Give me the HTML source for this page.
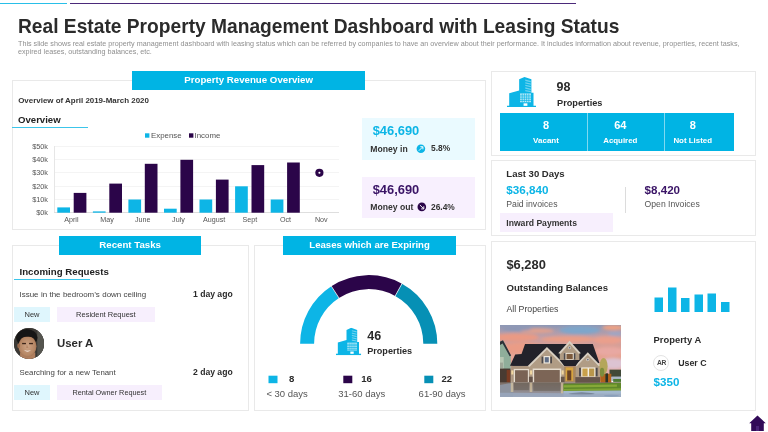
<!DOCTYPE html>
<html>
<head>
<meta charset="utf-8">
<title>Real Estate Property Management Dashboard with Leasing Status</title>
<style>
*{margin:0;padding:0;box-sizing:border-box;}
html,body{width:768px;height:432px;overflow:hidden;background:#fff;}
body{position:relative;font-family:"Liberation Sans",sans-serif;color:#222;will-change:transform;}
.a{position:absolute;}
.t{position:absolute;white-space:nowrap;line-height:1;}
.b{font-weight:bold;}
.panel{position:absolute;border:1px solid #e9e9e9;background:#fff;}
.hdr{position:absolute;background:#00b4e4;color:#fff;font-weight:bold;text-align:center;white-space:nowrap;}
.cy{color:#0db5e6;}
.pu{color:#3a1466;}
.tag{position:absolute;text-align:center;white-space:nowrap;color:#333;}
</style>
</head>
<body>
<svg width="0" height="0" style="position:absolute">
<defs>
<symbol id="bld" viewBox="95 70 303 330" preserveAspectRatio="none">
<path d="M118 245 L222 215 L222 95 L278 70 L350 95 L350 240 L372 240 L372 385 L118 385Z" fill="#0db5e6"/>
<rect x="95" y="381" width="303" height="19" fill="#0db5e6"/>
<g fill="#fff">
<rect x="232" y="249" width="113" height="13" opacity="0.9"/>
<rect x="232" y="270" width="113" height="12" opacity="0.8"/>
<rect x="232" y="290" width="113" height="12" opacity="0.8"/>
<rect x="232" y="310" width="113" height="12" opacity="0.8"/>
<rect x="232" y="330" width="113" height="13" opacity="0.75"/>
<rect x="268" y="355" width="40" height="27"/>
<path d="M286 98 L344 112 L344 126 L286 112Z M286 126 L344 140 L344 154 L286 140Z M286 154 L344 168 L344 182 L286 168Z M286 182 L344 196 L344 210 L286 196Z M286 210 L344 222 L344 234 L286 224Z" opacity="0.4"/>
</g>
<g stroke="#0db5e6" stroke-width="7"><path d="M254 249V343M277 249V343M300 249V343M323 249V343"/></g>
</symbol>
</defs>
</svg>
<!-- top lines -->
<div class="a" style="left:0;top:3px;width:66.5px;height:1.2px;background:#29bfe8;"></div>
<div class="a" style="left:69.6px;top:3px;width:506.3px;height:1.2px;background:#4b2a7a;"></div>

<!-- title -->
<div class="t b" id="title" style="left:17.6px;top:15.1px;font-size:21px;color:#2b2b2b;transform-origin:0 0;transform:scaleX(0.9137);">Real Estate Property Management Dashboard with Leasing Status</div>
<div class="t" id="sub1" style="left:18px;top:40.1px;font-size:7.2px;color:#8f8f8f;">This slide shows real estate property management dashboard with leasing status which can be referred by companies to have an overview about their performance. It includes information about revenue, properties, recent tasks,</div>
<div class="t" id="sub2" style="left:18px;top:48.2px;font-size:7.2px;color:#8f8f8f;">expired leases, outstanding balances, etc.</div>

<!-- PANEL 1 : revenue -->
<div class="panel" style="left:12px;top:80px;width:474px;height:150px;"></div>
<div class="hdr" style="left:132px;top:71.2px;width:233.2px;height:18.6px;font-size:9.7px;line-height:18.8px;">Property Revenue Overview</div>
<div class="t b" style="left:18.2px;top:96.6px;font-size:7.95px;color:#333;">Overview of April 2019-March 2020</div>
<div class="t b" style="left:18px;top:114.7px;font-size:9.6px;color:#222;">Overview</div>
<div class="a" style="left:12px;top:126.9px;width:75.6px;height:1.4px;background:#3cc5ea;"></div>

<!-- chart -->
<svg class="a" style="left:0;top:0;" width="768" height="432" viewBox="0 0 768 432" id="chart">
<g stroke="#f4f4f4" stroke-width="1" shape-rendering="crispEdges">
<line x1="54" y1="146.5" x2="339" y2="146.5"/>
<line x1="54" y1="159.5" x2="339" y2="159.5"/>
<line x1="54" y1="172.5" x2="339" y2="172.5"/>
<line x1="54" y1="186.5" x2="339" y2="186.5"/>
<line x1="54" y1="199.5" x2="339" y2="199.5"/>
</g>
<line x1="54.5" y1="146" x2="54.5" y2="213" stroke="#e6e6e6" stroke-width="1" shape-rendering="crispEdges"/>
<line x1="54" y1="212.9" x2="339" y2="212.9" stroke="#dedede" stroke-width="1" shape-rendering="crispEdges"/>
<g fill="#0db5e6">
<rect x="57.3" y="207.4" width="12.7" height="5.3"/>
<rect x="92.9" y="211.4" width="12.7" height="1.3"/>
<rect x="128.4" y="199.5" width="12.7" height="13.2"/>
<rect x="164.0" y="208.7" width="12.7" height="4.0"/>
<rect x="199.5" y="199.5" width="12.7" height="13.2"/>
<rect x="235.1" y="186.3" width="12.7" height="26.4"/>
<rect x="270.7" y="199.5" width="12.7" height="13.2"/>
</g>
<g fill="#2b0549">
<rect x="73.7" y="192.9" width="12.7" height="19.8"/>
<rect x="109.3" y="183.6" width="12.7" height="29.1"/>
<rect x="144.8" y="163.8" width="12.7" height="48.9"/>
<rect x="180.4" y="159.8" width="12.7" height="52.9"/>
<rect x="215.9" y="179.6" width="12.7" height="33.1"/>
<rect x="251.5" y="165.1" width="12.7" height="47.6"/>
<rect x="287.1" y="162.5" width="12.7" height="50.2"/>
</g>
<circle cx="319.4" cy="172.8" r="4.1" fill="#2b0549"/>
<circle cx="319.4" cy="172.8" r="1.05" fill="#fff"/>
<rect x="145" y="133.3" width="4.4" height="4.4" fill="#0db5e6"/>
<rect x="189" y="133.3" width="4.4" height="4.4" fill="#2b0549"/>
</svg>
<div class="t" style="left:151px;top:131.7px;font-size:7.9px;color:#555;">Expense</div>
<div class="t" style="left:194.5px;top:131.7px;font-size:7.9px;color:#555;">Income</div>
<div id="ylabels"></div>
<div class="t yl" style="left:20px;width:28px;text-align:right;top:142.9px;font-size:7.3px;color:#555;">$50k</div>
<div class="t yl" style="left:20px;width:28px;text-align:right;top:155.9px;font-size:7.3px;color:#555;">$40k</div>
<div class="t yl" style="left:20px;width:28px;text-align:right;top:168.9px;font-size:7.3px;color:#555;">$30k</div>
<div class="t yl" style="left:20px;width:28px;text-align:right;top:182.9px;font-size:7.3px;color:#555;">$20k</div>
<div class="t yl" style="left:20px;width:28px;text-align:right;top:195.9px;font-size:7.3px;color:#555;">$10k</div>
<div class="t yl" style="left:20px;width:28px;text-align:right;top:208.9px;font-size:7.3px;color:#555;">$0k</div>

<div class="t xl" style="left:53.5px;width:35.7px;text-align:center;top:217.3px;font-size:7.15px;color:#555;">April</div>
<div class="t xl" style="left:89.2px;width:35.7px;text-align:center;top:217.3px;font-size:7.15px;color:#555;">May</div>
<div class="t xl" style="left:124.9px;width:35.7px;text-align:center;top:217.3px;font-size:7.15px;color:#555;">June</div>
<div class="t xl" style="left:160.6px;width:35.7px;text-align:center;top:217.3px;font-size:7.15px;color:#555;">July</div>
<div class="t xl" style="left:196.3px;width:35.7px;text-align:center;top:217.3px;font-size:7.15px;color:#555;">August</div>
<div class="t xl" style="left:232.0px;width:35.7px;text-align:center;top:217.3px;font-size:7.15px;color:#555;">Sept</div>
<div class="t xl" style="left:267.7px;width:35.7px;text-align:center;top:217.3px;font-size:7.15px;color:#555;">Oct</div>
<div class="t xl" style="left:303.4px;width:35.7px;text-align:center;top:217.3px;font-size:7.15px;color:#555;">Nov</div>

<!-- money boxes -->
<div class="a" style="left:362.2px;top:117.7px;width:113.1px;height:41.9px;background:#eafaff;"></div>
<div class="t b cy" style="left:372.7px;top:125px;font-size:12.9px;">$46,690</div>
<div class="t b" style="left:370.3px;top:145.1px;font-size:8.65px;color:#333;">Money in</div>
<div class="t b" style="left:431px;top:144px;font-size:8.4px;color:#333;">5.8%</div>
<div class="a" style="left:362.2px;top:176.6px;width:113.1px;height:41.9px;background:#f8f0fe;"></div>
<div class="t b pu" style="left:372.7px;top:184px;font-size:12.9px;">$46,690</div>
<div class="t b" style="left:370.3px;top:202.7px;font-size:8.65px;color:#333;">Money out</div>
<div class="t b" style="left:431px;top:202.9px;font-size:8.4px;color:#333;">26.4%</div>
<svg class="a" style="left:414px;top:142px;" width="16" height="72" viewBox="414 142 16 72">
<circle cx="420.9" cy="148.7" r="4.3" fill="#0db5e6"/>
<path d="M418.9 150.7 L422.7 146.9 M420.3 146.7 H422.9 V149.3" stroke="#fff" stroke-width="0.95" fill="none"/>
<circle cx="421.8" cy="206.9" r="4.3" fill="#2b0549"/>
<path d="M419.9 205 L423.6 208.7 M421.2 208.9 H423.8 V206.3" stroke="#fff" stroke-width="0.95" fill="none"/>
</svg>

<!-- PANEL 2 : properties -->
<div class="panel" style="left:491px;top:71px;width:265px;height:85px;"></div>
<svg class="a" id="bicon1" style="left:507px;top:76.8px;" width="29" height="30.5"><use href="#bld" width="29" height="30.5"/></svg>
<div class="t b" style="left:556.5px;top:80.5px;font-size:12.5px;color:#2b2b2b;">98</div>
<div class="t b" style="left:557px;top:98.5px;font-size:9.2px;color:#2b2b2b;">Properties</div>
<div class="a" style="left:500px;top:112.8px;width:234px;height:38.7px;background:#00b4e4;"></div>
<div class="a" style="left:587px;top:113px;width:1px;height:38px;background:#7fd9f1;"></div>
<div class="a" style="left:664px;top:113px;width:1px;height:38px;background:#7fd9f1;"></div>
<div class="t b" style="left:502.5px;width:87px;text-align:center;top:119.7px;font-size:11px;color:#fff;">8</div>
<div class="t b" style="left:502.5px;width:87px;text-align:center;top:136.6px;font-size:8px;color:#fff;">Vacant</div>
<div class="t b" style="left:582.3px;width:76px;text-align:center;top:119.7px;font-size:11px;color:#fff;">64</div>
<div class="t b" style="left:582.3px;width:76px;text-align:center;top:136.6px;font-size:7.9px;color:#fff;">Acquired</div>
<div class="t b" style="left:664.7px;width:56px;text-align:center;top:119.7px;font-size:11px;color:#fff;">8</div>
<div class="t b" style="left:664.7px;width:56px;text-align:center;top:136.6px;font-size:7.9px;color:#fff;">Not Listed</div>

<!-- PANEL 3 : last 30 days -->
<div class="panel" style="left:491px;top:160px;width:265px;height:76px;"></div>
<div class="t b" style="left:506.3px;top:169px;font-size:9.55px;color:#2b2b2b;">Last 30 Days</div>
<div class="t b cy" style="left:506.3px;top:184px;font-size:11.7px;">$36,840</div>
<div class="t" style="left:506.3px;top:200.3px;font-size:8.7px;color:#555;">Paid invoices</div>
<div class="a" style="left:625px;top:187px;width:1px;height:26px;background:#dcdcdc;"></div>
<div class="t b pu" style="left:644.6px;top:184px;font-size:11.6px;">$8,420</div>
<div class="t" style="left:644.6px;top:200.3px;font-size:8.65px;color:#555;">Open Invoices</div>
<div class="a" style="left:500.2px;top:213.3px;width:113px;height:18.3px;background:#f7effd;"></div>
<div class="t b" style="left:506.3px;top:218.7px;font-size:8.6px;color:#333;">Inward Payments</div>

<!-- PANEL 4 : outstanding -->
<div class="panel" style="left:491px;top:241px;width:265px;height:170px;"></div>
<div class="t b" style="left:506.4px;top:258.6px;font-size:12.9px;color:#2b2b2b;">$6,280</div>
<div class="t b" style="left:506.4px;top:283.2px;font-size:9.63px;color:#2b2b2b;">Outstanding Balances</div>
<div class="t" style="left:506.4px;top:305.4px;font-size:8.75px;color:#444;">All Properties</div>
<svg class="a" id="house" style="left:500.2px;top:325px;" width="121.2" height="72" viewBox="30 28 653 387" preserveAspectRatio="none">
<defs>
<linearGradient id="sky" x1="0" y1="0" x2="0" y2="1"><stop offset="0" stop-color="#8c98b6"/><stop offset="0.22" stop-color="#c39fa6"/><stop offset="0.5" stop-color="#e59f8b"/><stop offset="0.8" stop-color="#e3aaa4"/><stop offset="1" stop-color="#d6bcc8"/></linearGradient>
<filter id="bl" x="-10%" y="-10%" width="120%" height="120%"><feGaussianBlur stdDeviation="9"/></filter>
<filter id="bs" x="-5%" y="-5%" width="110%" height="110%"><feGaussianBlur stdDeviation="2.8"/></filter>
<clipPath id="hc"><rect x="30" y="28" width="653" height="387"/></clipPath>
</defs>
<g clip-path="url(#hc)">
<rect x="30" y="28" width="653" height="300" fill="url(#sky)"/>
<g filter="url(#bl)">
<ellipse cx="110" cy="95" rx="130" ry="22" fill="#ea9a84"/>
<ellipse cx="150" cy="150" rx="110" ry="28" fill="#ea9c86"/>
<ellipse cx="230" cy="60" rx="90" ry="14" fill="#dfa08f"/>
<ellipse cx="120" cy="48" rx="80" ry="12" fill="#8b97b6"/>
<ellipse cx="460" cy="55" rx="110" ry="22" fill="#7ea6ca"/>
<ellipse cx="400" cy="105" rx="150" ry="16" fill="#eb9e86"/>
<ellipse cx="640" cy="42" rx="60" ry="14" fill="#f0a283"/>
<ellipse cx="610" cy="110" rx="80" ry="22" fill="#ea9f8c"/>
<ellipse cx="650" cy="75" rx="40" ry="12" fill="#9fa6c4"/>
<ellipse cx="620" cy="170" rx="80" ry="24" fill="#e8a8a2"/>
<ellipse cx="640" cy="235" rx="70" ry="30" fill="#dcc3d2"/>
<ellipse cx="110" cy="205" rx="60" ry="20" fill="#e6a597"/>
</g>
<g filter="url(#bs)">
<!-- neighbour -->
<path d="M30 115 L48 112 L88 190 L88 340 L30 345Z" fill="#8fae9a"/>
<path d="M30 118 L46 110 L90 192 L82 196 L44 128 L30 135Z" fill="#2e3038"/>
<rect x="30" y="230" width="16" height="30" fill="#39403f"/>
<rect x="30" y="200" width="20" height="90" fill="#c9d3bf" opacity="0.7"/><rect x="30" y="262" width="56" height="80" fill="#4a3a32"/><rect x="66" y="270" width="20" height="68" fill="#7a3b22"/>
<path d="M620 268 h63 v40 h-63z" fill="#3f4a38"/>
<!-- roof -->
<path d="M165 130 L530 130 L566 232 L440 250 L120 250 L84 247 L112 186 L146 184Z" fill="#22232b"/>
<!-- walls -->
<path d="M90 248 L195 248 L195 336 L90 336Z" fill="#aa957e"/>
<path d="M283 152 L382 250 L382 336 L186 336 L186 250Z" fill="#b09c85"/>
<path d="M283 146 L388 250 L376 252 L283 160 L190 252 L178 250Z" fill="#d8cfc2"/>
<path d="M376 250 h64 v86 h-64z" fill="#a8875f"/>
<path d="M503 180 L568 248 L568 312 L438 312 L438 248Z" fill="#b09c85"/>
<path d="M503 174 L574 248 L562 250 L503 188 L444 250 L432 248Z" fill="#d8cfc2"/>
<path d="M405 120 L458 178 L458 216 L352 216 L352 178Z" fill="#ae9a83"/>
<path d="M405 113 L466 180 L454 182 L405 128 L356 182 L344 180Z" fill="#d8cfc2"/>
<path d="M352 216 h106 l-20 32 h-62z" fill="#22232b"/>
<!-- windows -->
<rect x="383" y="178" width="44" height="36" fill="#f3ede2"/>
<rect x="388" y="183" width="34" height="28" fill="#7c5a3d"/>
<rect x="374" y="180" width="8" height="34" fill="#4c4a4d"/><rect x="428" y="180" width="8" height="34" fill="#4c4a4d"/>
<circle cx="405" cy="150" r="8" fill="#d8cfc2"/><circle cx="405" cy="150" r="4.5" fill="#6d7383"/>
<rect x="265" y="195" width="34" height="40" fill="#f3ede2"/>
<rect x="271" y="201" width="22" height="28" fill="#5f6d85"/>
<rect x="254" y="198" width="9" height="36" fill="#4c4a4d"/><rect x="301" y="198" width="9" height="36" fill="#4c4a4d"/>
<circle cx="503" cy="214" r="9" fill="#d8cfc2"/><circle cx="503" cy="214" r="5" fill="#6d7383"/>
<rect x="468" y="256" width="76" height="50" fill="#f3ede2"/>
<rect x="474" y="262" width="28" height="42" fill="#c9a14b"/><rect x="510" y="262" width="28" height="42" fill="#b9964b"/>
<rect x="456" y="258" width="10" height="46" fill="#4c4a4d"/><rect x="546" y="258" width="10" height="46" fill="#4c4a4d"/>
<!-- garage doors -->
<rect x="104" y="264" width="82" height="72" fill="#e6ddd0"/>
<rect x="111" y="271" width="69" height="64" fill="#7a6455"/>
<rect x="206" y="262" width="154" height="76" fill="#e6ddd0"/>
<rect x="214" y="270" width="138" height="68" fill="#7b6556"/>
<rect x="91" y="272" width="11" height="22" fill="#f1d7a0"/><rect x="192" y="272" width="11" height="22" fill="#f1d7a0"/><rect x="362" y="272" width="11" height="22" fill="#f1d7a0"/>
<!-- door -->
<rect x="384" y="256" width="40" height="72" fill="#d7a441"/>
<rect x="392" y="272" width="22" height="54" fill="#6b4326"/>
<!-- stone base -->
<rect x="436" y="308" width="134" height="34" fill="#66554c"/>
<rect x="186" y="306" width="20" height="30" fill="#66554c"/><rect x="358" y="306" width="20" height="30" fill="#66554c"/>
<!-- fence & tree -->
<rect x="570" y="290" width="60" height="56" fill="#b0621f"/>
<rect x="598" y="288" width="14" height="60" fill="#2c3326"/>
<ellipse cx="588" cy="250" rx="22" ry="44" fill="#b4a65a"/>
<ellipse cx="580" cy="282" rx="12" ry="24" fill="#7d8d3c"/>
<!-- ground -->
<linearGradient id="drv" x1="0" y1="0" x2="0" y2="1"><stop offset="0" stop-color="#7c6d64"/><stop offset="0.6" stop-color="#8f8a8e"/><stop offset="1" stop-color="#a0a3b2"/></linearGradient>
<rect x="30" y="336" width="653" height="80" fill="url(#drv)"/>
<path d="M30 350 L100 338 L100 415 L30 415Z" fill="#8d939e"/>
<rect x="104" y="338" width="82" height="40" fill="#6f675f" opacity="0.75"/>
<rect x="210" y="338" width="146" height="44" fill="#6f675f" opacity="0.75"/>
<rect x="88" y="338" width="14" height="50" fill="#d8c6a0" opacity="0.7"/><rect x="190" y="338" width="14" height="50" fill="#d8c6a0" opacity="0.7"/><rect x="358" y="338" width="14" height="60" fill="#d8c6a0" opacity="0.7"/>
<path d="M372 344 L683 338 L683 382 L372 384Z" fill="#5f882a"/>
<path d="M372 352 L660 348 L660 360 L372 364Z" fill="#86a838"/><path d="M372 372 L683 368 L683 380 L372 382Z" fill="#7fa334"/>
<path d="M372 383 L683 380 L683 415 L372 415Z" fill="#a3b8cd"/><ellipse cx="470" cy="398" rx="70" ry="7" fill="#5f6c7c"/><ellipse cx="630" cy="408" rx="40" ry="5" fill="#4f7fa8"/>
<path d="M30 392 L683 398 L683 415 L30 415Z" fill="#9aa9bf" opacity="0.8"/>
<rect x="630" y="305" width="53" height="24" fill="#a9b7c7"/>
<rect x="640" y="318" width="43" height="16" fill="#4e7a34"/>
</g>
</g>
</svg>
<svg class="a" style="left:654px;top:286px;" width="78" height="28" viewBox="654 286 78 28">
<g fill="#0db5e6">
<rect x="654.5" y="297.5" width="8.5" height="14.5"/>
<rect x="668" y="287.5" width="8.5" height="24.5"/>
<rect x="681" y="298" width="8.5" height="14"/>
<rect x="694.5" y="294.5" width="8.5" height="17.5"/>
<rect x="707.5" y="293.5" width="8.5" height="18.5"/>
<rect x="721" y="302" width="8.5" height="10"/>
</g>
</svg>
<div class="t b" style="left:653.6px;top:335.2px;font-size:9.4px;color:#2b2b2b;">Property A</div>
<div class="a" style="left:653.4px;top:354.6px;width:16px;height:16px;border-radius:50%;border:1px solid #e4e4e4;background:#fff;"></div>
<div class="t b" style="left:653.4px;width:16px;text-align:center;top:359.6px;font-size:6.7px;letter-spacing:-0.35px;color:#444;">AR</div>
<div class="t b" style="left:678.2px;top:359px;font-size:8.8px;color:#2b2b2b;">User C</div>
<div class="t b cy" style="left:653.6px;top:375.9px;font-size:11.6px;">$350</div>

<!-- home icon -->
<svg class="a" style="left:747.5px;top:413.7px;" width="20" height="20" viewBox="747 412 20 20">
<path d="M756.5 413.5 L764.8 421.2 L762.8 421.2 L762.8 429 L750.2 429 L750.2 421.2 L748.2 421.2 Z" fill="#320a58"/>
<rect x="755" y="424" width="3" height="5" fill="#4b2378"/>
</svg>

<!-- PANEL 5 : recent tasks -->
<div class="panel" style="left:12px;top:245px;width:237px;height:166px;"></div>
<div class="hdr" style="left:59px;top:236.3px;width:142.3px;height:18.3px;font-size:9.7px;line-height:18.5px;">Recent Tasks</div>
<div class="t b" style="left:19.5px;top:267.1px;font-size:9.7px;color:#222;">Incoming Requests</div>
<div class="a" style="left:14.3px;top:279.1px;width:75.8px;height:1.4px;background:#3cc5ea;"></div>
<div class="t" style="left:19.5px;top:290.6px;font-size:7.95px;color:#444;word-spacing:0.2px;">Issue in the bedroom’s down ceiling</div>
<div class="t b" style="left:193px;top:290.3px;font-size:8.6px;color:#2b2b2b;">1 day ago</div>
<div class="tag" style="left:14.2px;top:307.1px;width:35.6px;height:15.3px;background:#dff6fd;font-size:7.5px;line-height:15.6px;">New</div>
<div class="tag" style="left:56.8px;top:307.1px;width:98.2px;height:15.3px;background:#f7effd;font-size:7.5px;line-height:15.6px;">Resident Request</div>
<div class="a" id="avatar" style="left:14px;top:328.1px;width:30.4px;height:30.6px;border-radius:50%;overflow:hidden;background:#3b3935;">
<svg width="30.4" height="30.6" viewBox="0 0 30 30" preserveAspectRatio="none" style="display:block">
<defs><radialGradient id="fg" cx="0.5" cy="0.5" r="0.6"><stop offset="0" stop-color="#cfa586"/><stop offset="0.7" stop-color="#b58664"/><stop offset="1" stop-color="#8c5e42"/></radialGradient>
<filter id="ab" x="-10%" y="-10%" width="120%" height="120%"><feGaussianBlur stdDeviation="0.55"/></filter></defs>
<rect width="30" height="30" fill="#3b3935"/>
<g filter="url(#ab)">
<rect x="23" y="-2" width="10" height="34" fill="#55554f"/>
<ellipse cx="12.6" cy="9.6" rx="10.6" ry="8.6" fill="#191614"/>
<rect x="6" y="24" width="15" height="8" fill="#b07f5e"/>
<ellipse cx="13.3" cy="18" rx="8.9" ry="10.6" fill="url(#fg)"/>
<ellipse cx="4.6" cy="17.5" rx="1.4" ry="2.4" fill="#9a6a4c"/>
<path d="M4 13 Q6 4.5 13.5 5.3 Q21 5 22.4 12.5 Q19 8.3 13.5 8.7 Q8 8.3 4 13Z" fill="#191614"/>
<rect x="8" y="14.6" width="3.8" height="1.3" fill="#3e261a"/><rect x="14.9" y="14.6" width="3.8" height="1.3" fill="#3e261a"/>
<path d="M9.8 21.6 Q13.3 25 16.8 21.6 Q13.3 23.2 9.8 21.6Z" fill="#f4e9e2"/>
<path d="M12.6 16 L12 19.6 L14.4 19.6Z" fill="#a87655" opacity="0.6"/>
</g>
</svg></div>
<div class="t b" style="left:57px;top:338.4px;font-size:11.4px;color:#2b2b2b;">User A</div>
<div class="t" style="left:19.5px;top:368.6px;font-size:7.85px;color:#444;word-spacing:0.2px;">Searching for a new Tenant</div>
<div class="t b" style="left:193px;top:368.3px;font-size:8.6px;color:#2b2b2b;">2 day ago</div>
<div class="tag" style="left:14.2px;top:385.1px;width:35.6px;height:15.4px;background:#dff6fd;font-size:7.5px;line-height:15.7px;">New</div>
<div class="tag" style="left:56.8px;top:385.1px;width:105.2px;height:15.4px;background:#f7effd;font-size:7.3px;line-height:15.7px;">Rental Owner Request</div>

<!-- PANEL 6 : leases -->
<div class="panel" style="left:254px;top:245px;width:232px;height:166px;"></div>
<div class="hdr" style="left:283px;top:236.3px;width:173.2px;height:18.3px;font-size:9.6px;line-height:18.5px;">Leases which are Expiring</div>
<svg class="a" style="left:254px;top:260px;" width="232" height="150" viewBox="254 260 232 150" id="donut">
<path d="M300.10 343.70 A68.6 68.6 0 0 1 331.34 286.17 L338.96 297.91 A54.6 54.6 0 0 0 314.10 343.70 Z" fill="#0db5e6"/>
<path d="M331.34 286.17 A68.6 68.6 0 0 1 401.96 283.70 L395.17 295.95 A54.6 54.6 0 0 0 338.96 297.91 Z" fill="#2b0549"/>
<path d="M401.96 283.70 A68.6 68.6 0 0 1 437.30 343.70 L423.30 343.70 A54.6 54.6 0 0 0 395.17 295.95 Z" fill="#0690b5"/>
<line x1="331.07" y1="285.75" x2="339.24" y2="298.33" stroke="#fff" stroke-width="0.7"/>
<line x1="402.20" y1="283.26" x2="394.93" y2="296.38" stroke="#fff" stroke-width="0.7"/>
<use href="#bld" x="335.9" y="327.8" width="25.3" height="27.5"/>
<rect x="268.5" y="375.7" width="9" height="7.5" fill="#0db5e6"/>
<rect x="343.3" y="375.7" width="9" height="7.5" fill="#2b0549"/>
<rect x="424.3" y="375.7" width="9" height="7.5" fill="#0690b5"/>
</svg>
<div class="t b" style="left:367.2px;top:330.3px;font-size:12.5px;color:#2b2b2b;">46</div>
<div class="t b" style="left:367.2px;top:347.3px;font-size:9.1px;color:#2b2b2b;">Properties</div>
<div class="t b" style="left:289px;top:374px;font-size:9.6px;color:#2b2b2b;">8</div>
<div class="t b" style="left:361.2px;top:374px;font-size:9.6px;color:#2b2b2b;">16</div>
<div class="t b" style="left:441.4px;top:374px;font-size:9.6px;color:#2b2b2b;">22</div>
<div class="t" style="left:266.4px;top:388.9px;font-size:9.5px;color:#555;">&lt; 30 days</div>
<div class="t" style="left:338.3px;top:388.9px;font-size:9.5px;color:#555;">31-60 days</div>
<div class="t" style="left:418.6px;top:388.9px;font-size:9.5px;color:#555;">61-90 days</div>

</body>
</html>
